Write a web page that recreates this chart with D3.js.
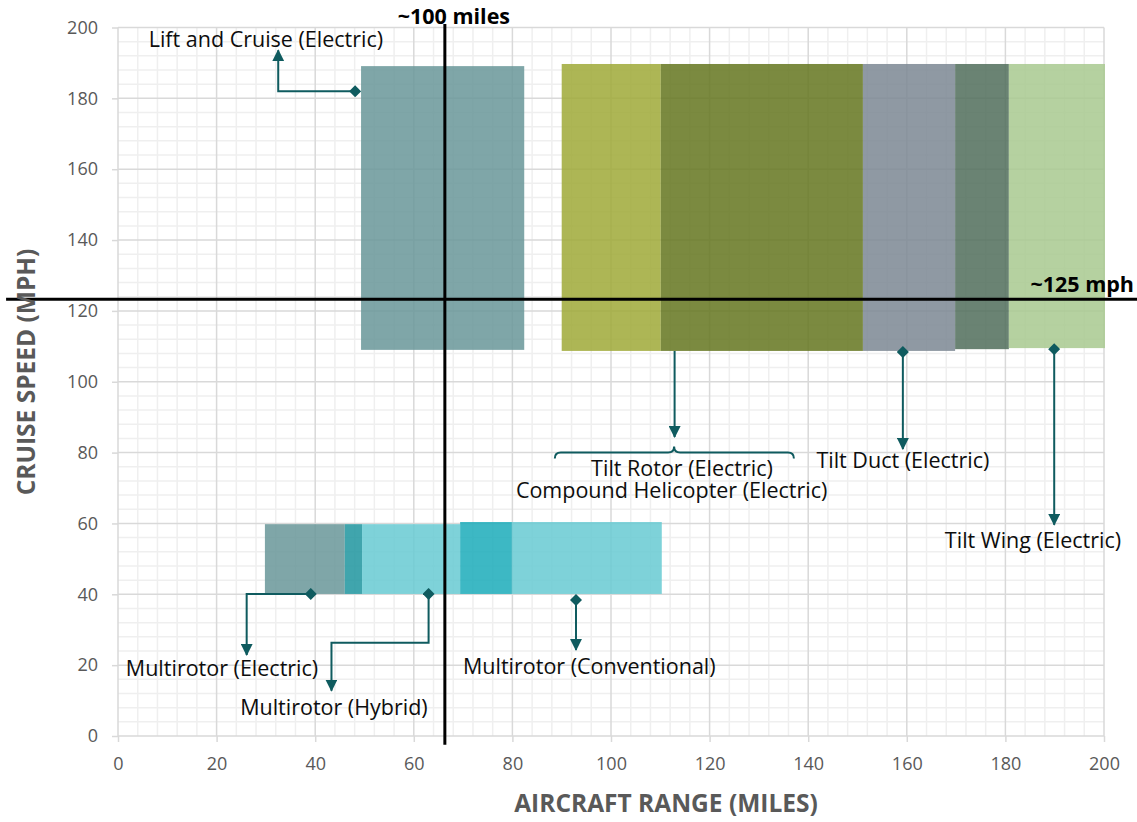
<!DOCTYPE html>
<html>
<head>
<meta charset="utf-8">
<script src="https://cdn.jsdelivr.net/npm/d3@7"></script>
<style>
  html, body { margin: 0; padding: 0; background: #fff; }
  svg { display: block; font-family: "Open Sans", sans-serif; }
</style>
</head>
<body>
<svg id="chart" width="1137" height="822"></svg>
<script>
// ---------------- DATA ----------------
// Shaded bands (range in the chart's x units, cruise speed in mph)
const bandNames  = ["Lift and Cruise", "Tilt Rotor", "Compound Helicopter", "Tilt Duct", "Tilt Duct + Tilt Wing", "Tilt Wing",
                    "Multirotor (Electric)", "Multirotor (Electric + Hybrid)", "Multirotor (Hybrid)", "Multirotor (Hybrid + Conventional)", "Multirotor (Conventional)"];
const rangeMin   = [49.3, 90.0, 110.1, 151.1, 169.8, 180.7, 29.8, 46.0, 49.5, 69.4, 79.9];
const rangeMax   = [82.4, 110.1, 151.1, 169.8, 180.7, 200.2, 46.0, 49.5, 69.4, 79.9, 110.3];
const speedMin   = [109.0, 108.7, 108.7, 108.7, 109.2, 109.5, 40.1, 40.1, 40.1, 40.1, 40.1];
const speedMax   = [189.1, 189.7, 189.7, 189.7, 189.7, 189.7, 59.8, 59.8, 59.8, 60.4, 60.4];
const bandColors = ["#7fa7a8", "#adb655", "#7b8a40", "#8f99a3", "#6a8373", "#b5d1a0",
                    "#7fa7a8", "#40a5ad", "#7ed2d9", "#3db8c4", "#7ed2d9"];

// Reference lines
const refRange = 66.3;   // "~100 miles"
const refSpeed = 123.3;  // "~125 mph"
const refRangeLabel = "~100 miles";
const refSpeedLabel = "~125 mph";

// Axis ticks
const xTicks = [0, 20, 40, 60, 80, 100, 120, 140, 160, 180, 200];
const yTicks = [0, 20, 40, 60, 80, 100, 120, 140, 160, 180, 200];
const xTitle = "AIRCRAFT RANGE (MILES)";
const yTitle = "CRUISE SPEED (MPH)";

// Callouts: polyline points [range, speed]; first point = diamond (if flagged), last = arrow tip
const calloutPaths = [
  [[48.1, 182.0], [32.5, 182.0], [32.5, 193.6]],
  [[112.9, 108.7], [112.9, 84.4]],
  [[159.2, 108.4], [159.2, 81.0]],
  [[189.9, 109.2], [189.9, 59.6]],
  [[39.1, 40.1], [26.1, 40.1], [26.1, 22.9]],
  [[63.0, 40.1], [63.0, 26.3], [43.3, 26.3], [43.3, 12.8]],
  [[92.9, 38.4], [92.9, 24.3]]
];
const calloutDiamond = [true, false, true, true, true, true, true];

// Brace under Tilt Rotor arrow: [left, mid, right] range, at speed
const braceRange = [88.6, 112.8, 137.1];
const braceSpeed = 80.0;

// Labels: text, anchor range (centre), baseline speed
const labelTexts = ["Lift and Cruise (Electric)", "Tilt Rotor (Electric)", "Compound Helicopter (Electric)",
                    "Tilt Duct (Electric)", "Tilt Wing (Electric)", "Multirotor (Electric)",
                    "Multirotor (Hybrid)", "Multirotor (Conventional)"];
const labelRange = [30.0, 114.4, 112.3, 159.2, 185.6, 21.1, 43.8, 95.6];
const labelSpeed = [194.6, 73.4, 67.2, 75.6, 53.1, 16.9, 5.9, 17.5];

// ---------------- CHART ----------------
const W = 1137, H = 822;
const plot = { left: 118, right: 1104, top: 27.5, bottom: 736 };
const svg = d3.select("#chart");

const x = d3.scaleLinear().domain([0, 200]).range([plot.left, plot.right]);
const y = d3.scaleLinear().domain([0, 200]).range([plot.bottom, plot.top]);

// grid
const minor = d3.range(0, 201, 4).filter(v => v % 20 !== 0);
const major = d3.range(0, 201, 20);
const grid = svg.append("g");
grid.selectAll(".mx").data(minor).join("line")
  .attr("x1", d => x(d)).attr("x2", d => x(d)).attr("y1", y(0)).attr("y2", y(200))
  .attr("stroke", "#efefef").attr("stroke-width", 1.5);
grid.selectAll(".my").data(minor).join("line")
  .attr("y1", d => y(d)).attr("y2", d => y(d)).attr("x1", x(0)).attr("x2", x(200))
  .attr("stroke", "#efefef").attr("stroke-width", 1.5);
grid.selectAll(".Mx").data(major).join("line")
  .attr("x1", d => x(d)).attr("x2", d => x(d)).attr("y1", y(0)).attr("y2", y(200))
  .attr("stroke", "#d9d9d9").attr("stroke-width", 1.5);
grid.selectAll(".My").data(major).join("line")
  .attr("y1", d => y(d)).attr("y2", d => y(d)).attr("x1", x(0)).attr("x2", x(200))
  .attr("stroke", "#d9d9d9").attr("stroke-width", 1.5);

// axes
const xAxis = svg.append("g").attr("transform", `translate(0,${plot.bottom})`)
  .call(d3.axisBottom(x).tickValues(xTicks).tickSize(6).tickPadding(15));
const yAxis = svg.append("g").attr("transform", `translate(${plot.left},0)`)
  .call(d3.axisLeft(y).tickValues(yTicks).tickSize(6).tickPadding(14));
[xAxis, yAxis].forEach(a => {
  a.select(".domain").remove();
  a.selectAll(".tick line").attr("stroke", "#d9d9d9").attr("stroke-width", 1.5);
  a.selectAll(".tick text").attr("fill", "#595959").attr("font-size", 18)
    .attr("font-family", "Open Sans");
});

// bands (semi transparent so the grid shows through)
const alpha = 0.85;
function baseColor(c) {
  const o = d3.rgb(c);
  const f = v => Math.max(0, Math.min(255, (v - (1 - alpha) * 255) / alpha));
  return d3.rgb(f(o.r), f(o.g), f(o.b)).formatHex();
}
svg.append("g").selectAll("rect").data(bandNames.map((n, i) => i)).join("rect")
  .attr("x", i => x(rangeMin[i]))
  .attr("width", i => x(rangeMax[i]) - x(rangeMin[i]))
  .attr("y", i => y(speedMax[i]))
  .attr("height", i => y(speedMin[i]) - y(speedMax[i]))
  .attr("fill", i => baseColor(bandColors[i]))
  .attr("fill-opacity", alpha);

// reference lines
svg.append("line")
  .attr("x1", x(refRange)).attr("x2", x(refRange))
  .attr("y1", y(201)).attr("y2", y(-2.5))
  .attr("stroke", "#000").attr("stroke-width", 3);
svg.append("line")
  .attr("x1", x(-22.7)).attr("x2", x(207))
  .attr("y1", y(refSpeed)).attr("y2", y(refSpeed))
  .attr("stroke", "#000").attr("stroke-width", 3);
svg.append("text").text(refRangeLabel)
  .attr("x", x(refRange) + 9).attr("y", 24)
  .attr("text-anchor", "middle").attr("font-weight", "bold").attr("font-size", 21.5).attr("fill", "#000");
svg.append("text").text(refSpeedLabel)
  .attr("x", 1134).attr("y", y(refSpeed) - 7)
  .attr("text-anchor", "end").attr("font-weight", "bold").attr("font-size", 21.5).attr("fill", "#000");

// callouts
const teal = "#0f5b5f";
const defs = svg.append("defs");
defs.append("marker").attr("id", "arrow")
  .attr("viewBox", "0 0 12 12").attr("refX", 11).attr("refY", 6)
  .attr("markerWidth", 12).attr("markerHeight", 12).attr("markerUnits", "userSpaceOnUse")
  .attr("orient", "auto")
  .append("path").attr("d", "M0,0 L12,6 L0,12 Z").attr("fill", teal);
defs.append("marker").attr("id", "diamond")
  .attr("viewBox", "0 0 12 12").attr("refX", 6).attr("refY", 6)
  .attr("markerWidth", 12).attr("markerHeight", 12).attr("markerUnits", "userSpaceOnUse")
  .attr("orient", 0)
  .append("path").attr("d", "M6,0 L12,6 L6,12 L0,6 Z").attr("fill", teal);

const line = d3.line().x(d => x(d[0])).y(d => y(d[1]));
svg.append("g").selectAll("path").data(calloutPaths).join("path")
  .attr("d", d => line(d))
  .attr("fill", "none").attr("stroke", teal).attr("stroke-width", 2)
  .attr("marker-end", "url(#arrow)")
  .attr("marker-start", (d, i) => calloutDiamond[i] ? "url(#diamond)" : null);

// brace
{
  const xl = x(braceRange[0]), xm = x(braceRange[1]), xr = x(braceRange[2]), yb = y(braceSpeed);
  const r = 6;
  const p = `M${xl},${yb + r} Q${xl},${yb} ${xl + r},${yb} L${xm - r},${yb} Q${xm},${yb} ${xm},${yb - r} ` +
            `Q${xm},${yb} ${xm + r},${yb} L${xr - r},${yb} Q${xr},${yb} ${xr},${yb + r}`;
  svg.append("path").attr("d", p).attr("fill", "none").attr("stroke", teal).attr("stroke-width", 2);
}

// labels
svg.append("g").selectAll("text").data(labelTexts).join("text")
  .text(d => d)
  .attr("x", (d, i) => x(labelRange[i]))
  .attr("y", (d, i) => y(labelSpeed[i]))
  .attr("text-anchor", "middle").attr("font-size", 21.5).attr("fill", "#0d0d0d");

// axis titles
svg.append("text").text(xTitle)
  .attr("x", 666).attr("y", 812).attr("text-anchor", "middle")
  .attr("font-weight", "bold").attr("font-size", 24.5).attr("fill", "#595959");
svg.append("text").text(yTitle)
  .attr("transform", `translate(35,${372}) rotate(-90)`).attr("text-anchor", "middle")
  .attr("font-weight", "bold").attr("font-size", 24.5).attr("fill", "#595959");
</script>
</body>
</html>
